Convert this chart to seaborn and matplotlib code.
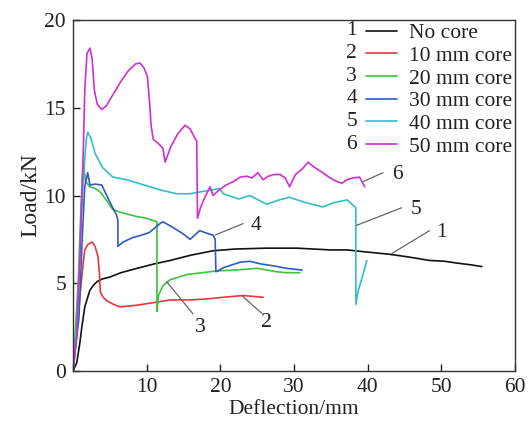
import numpy as np
import pandas as pd
import matplotlib
matplotlib.use("Agg")
import matplotlib.pyplot as plt
import matplotlib.text as mtext
from matplotlib.lines import Line2D
import seaborn as sns

# ---------------- data ----------------
x_none = [0, 0.5, 0.9, 1.2, 1.6, 2.0, 2.3, 2.8, 3.3, 4.0, 5.0, 6.5, 8.7, 11, 13.2, 16, 19.0, 22, 26.3,
          30.4, 34.9, 37.2, 39.4, 43.0, 45.5, 48.4, 50.5, 52.1, 54, 55.5]
y_none = [0, 0.45, 1.5, 2.5, 3.65, 4.2, 4.6, 4.9, 5.1, 5.25, 5.35, 5.6, 5.85, 6.1, 6.3, 6.6, 6.85, 6.95, 7.0,
          7.0, 6.9, 6.9, 6.8, 6.65, 6.5, 6.3, 6.25, 6.15, 6.05, 5.95]

x_10 = [0, 0.6, 1.0, 1.4, 1.6, 2.0, 2.6, 3.0, 3.4, 3.6, 3.7, 4.1, 4.6, 5.5, 6.4, 7.5, 8.7, 11, 13.2, 15.9,
        18, 20.4, 23.1, 24.5, 25.8]
y_10 = [0, 2.5, 4.5, 6.2, 6.9, 7.2, 7.35, 7.1, 6.5, 5.5, 4.5, 4.2, 4.0, 3.8, 3.65, 3.7, 3.75, 3.9, 4.05, 4.05,
        4.1, 4.2, 4.3, 4.25, 4.2]

x_20 = [0, 0.7, 1.1, 1.4, 1.7, 2.3, 3.0, 3.7, 4.6, 5.4, 6.8, 8.7, 10, 11.4, 11.4, 11.6, 12.2, 13.2, 14.3,
        15.5, 17.5, 19.5, 22, 25.0, 27.7, 29, 30.8]
y_20 = [0, 5, 9.5, 11.85, 10.8, 10.5, 10.4, 10.2, 9.7, 9.2, 9.0, 8.8, 8.7, 8.5, 3.4, 4.3, 4.85, 5.2, 5.35,
        5.5, 5.6, 5.7, 5.75, 5.85, 5.65, 5.6, 5.6]

x_30 = [0, 0.8, 1.3, 1.6, 2.0, 2.3, 3.0, 3.9, 4.7, 5.4, 5.9, 6.1, 6.1, 6.8, 8.1, 9.4, 10.4, 11.8, 12.2,
        13.5, 15.0, 15.9, 17.2, 18.5, 19.0, 19.3, 19.4, 20.5, 22.7, 24.0, 25.5, 27.1, 29.0, 31.1]
y_30 = [0, 3, 8, 10.5, 11.3, 10.6, 10.65, 10.6, 9.9, 9.3, 8.9, 8.6, 7.1, 7.35, 7.6, 7.75, 7.9, 8.4, 8.5,
        8.2, 7.8, 7.5, 8.0, 7.8, 7.75, 7.5, 5.65, 5.9, 6.2, 6.25, 6.1, 6.0, 5.85, 5.75]

x_40 = [0, 0.6, 1.0, 1.4, 1.8, 2.0, 2.4, 3.0, 4.0, 5.4, 7.3, 10.4, 12, 14.1, 15.9, 17.2, 19.9, 20.4, 22.5,
        24.0, 26.3, 28, 29.4, 31.5, 33.9, 35.5, 37.2, 38.0, 38.4, 38.4, 38.7, 39.3, 39.9]
y_40 = [0, 3, 7, 11, 13.2, 13.6, 13.3, 12.4, 11.6, 11.05, 10.9, 10.5, 10.3, 10.1, 10.1, 10.2, 10.4, 10.1, 9.8,
        10.0, 9.5, 9.75, 9.9, 9.6, 9.35, 9.6, 9.75, 9.45, 9.3, 3.8, 4.55, 5.4, 6.3]

x_50 = [0, 0.5, 0.9, 1.2, 1.4, 1.6, 1.9, 2.3, 2.6, 2.9, 3.3, 3.9, 4.5, 5.5, 6.5, 7.5, 8.5, 9.1, 9.6, 10.1,
        10.4, 10.6, 10.9, 11.5, 12.2, 12.5, 13.3, 14.2, 15.2, 15.9, 16.5, 16.8, 16.9, 17.3, 17.8, 18.6, 19.0,
        19.8, 20.8, 21.8, 22.7, 23.6, 24.3, 25.1, 25.8, 26.5, 27.3, 28.1, 28.8, 29.4, 30.2, 31.1, 31.9, 32.8,
        33.9, 34.9, 35.8, 36.5, 37.2, 38.0, 38.9, 39.6]
y_50 = [0, 2, 6, 10, 12.6, 16, 18.1, 18.4, 17.8, 16.0, 15.2, 14.9, 15.1, 15.8, 16.5, 17.1, 17.5, 17.55, 17.3,
        16.8, 15.3, 14.0, 13.2, 13.0, 12.7, 11.9, 12.8, 13.5, 14.0, 13.8, 13.3, 13.1, 8.7, 9.3, 9.8, 10.5,
        10.0, 10.3, 10.6, 10.8, 11.05, 11.1, 11.0, 11.3, 10.9, 11.1, 11.2, 11.2, 11.0, 10.5, 11.2, 11.5, 11.9,
        11.6, 11.3, 11.0, 10.8, 10.7, 10.9, 11.0, 11.05, 10.5]

series_labels = ["No core", "10 mm core", "20 mm core", "30 mm core", "40 mm core", "50 mm core"]
series_numbers = ["1", "2", "3", "4", "5", "6"]
series_x = [x_none, x_10, x_20, x_30, x_40, x_50]
series_y = [y_none, y_10, y_20, y_30, y_40, y_50]
colors = ["#111111", "#e8383c", "#3cc43c", "#2d5cc6", "#30bfc9", "#cf2fd0"]

x_ticks = [0, 10, 20, 30, 40, 50, 60]
y_ticks = [0, 5, 10, 15, 20]

# annotation leaders
ann_num = ["1", "2", "3", "4", "5", "6"]
ann_sx = [43.3, 22.9, 12.7, 19.3, 38.5, 39.4]
ann_sy = [6.7, 4.3, 5.1, 7.75, 8.3, 10.8]
ann_ex = [48.4, 25.6, 16.3, 23.1, 44.6, 42.1]
ann_ey = [8.0, 3.3, 3.25, 8.4, 9.3, 11.3]
ann_tx = [50.0, 26.2, 17.3, 24.8, 46.6, 44.0]
ann_ty = [7.9, 2.75, 2.5, 8.3, 9.2, 11.2]

# ---------------- style ----------------
sns.set_theme(style="ticks")
plt.rcParams["font.family"] = ["Liberation Serif", "DejaVu Serif"]
plt.rcParams["mathtext.fontset"] = "stix"

FS = 15.5

fig = plt.figure(figsize=(5.30, 4.28), dpi=100)
ax = fig.add_axes([0.1377, 0.1332, 0.834, 0.82])

frames = []
for lab, xs, ys in zip(series_labels, series_x, series_y):
    frames.append(pd.DataFrame({"Deflection": xs, "Load": ys, "series": lab}))
df = pd.concat(frames, ignore_index=True)

handles = []
for lab, col in zip(series_labels, colors):
    sub = df[df["series"] == lab]
    sns.lineplot(data=sub, x="Deflection", y="Load", ax=ax, color=col, lw=1.2,
                 sort=False, estimator=None, legend=False)
    handles.append(Line2D([], [], color=col, lw=1.2))

for n, sx, sy, ex, ey, tx, ty in zip(ann_num, ann_sx, ann_sy, ann_ex, ann_ey, ann_tx, ann_ty):
    ax.plot([sx, ex], [sy, ey], color="#666666", lw=0.9)
    ax.text(tx, ty, n, fontsize=FS, ha="center", va="center", color="#222222")

ax.set_xlim(0, 60)
ax.set_ylim(0, 20)
ax.set_xticks(x_ticks)
ax.set_xticklabels(["" if v == 0 else str(v) for v in x_ticks])
ax.set_yticks(y_ticks)
ax.tick_params(direction="in", length=5, width=1, labelsize=FS, colors="#222222", pad=5)
for s in ax.spines.values():
    s.set_linewidth(1.0)
    s.set_color("#333333")
    s.set_visible(True)
ax.set_xlabel("Deflection/mm", fontsize=FS, labelpad=2, color="#222222")
ax.set_ylabel("Load/kN", fontsize=17, labelpad=2, color="#222222")


class NumLineHandler:
    def __init__(self, num):
        self.num = num

    def legend_artist(self, legend, orig_handle, fontsize, handlebox):
        x0, y0 = handlebox.xdescent, handlebox.ydescent
        w, h = handlebox.width, handlebox.height
        t = mtext.Text(x0, y0 + h / 2, self.num, fontsize=fontsize, va="center", ha="left",
                       color="#222222", family=["Liberation Serif"])
        ln = Line2D([x0 + w * 0.40, x0 + w], [y0 + h / 2, y0 + h / 2],
                    color=orig_handle.get_color(), lw=1.2)
        t.set_transform(handlebox.get_transform())
        ln.set_transform(handlebox.get_transform())
        handlebox.add_artist(t)
        handlebox.add_artist(ln)
        return ln


hmap = {h: NumLineHandler(n) for h, n in zip(handles, series_numbers)}
leg = ax.legend(handles, series_labels, handler_map=hmap, loc="upper right", frameon=False,
                fontsize=FS, handlelength=2.35, handletextpad=0.55, labelspacing=0.12,
                borderaxespad=0.05, borderpad=0.1)
for t in leg.get_texts():
    t.set_color("#222222")

fig.savefig("out.png", dpi=100)
